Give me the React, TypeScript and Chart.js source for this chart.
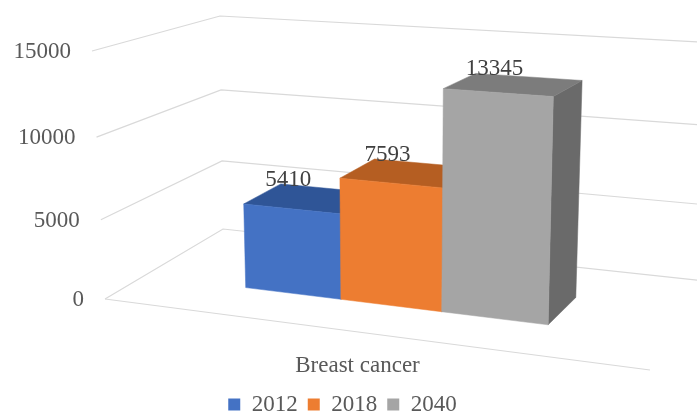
import { useEffect, useRef } from 'react';
import { Chart, registerables } from 'chart.js';

Chart.register(...registerables);

// ---- data ----
const categories = ['Breast cancer'];
const seriesNames = ['2012', '2018', '2040'];
const values2012 = [5410];
const values2018 = [7593];
const values2040 = [13345];
const yTickValues = [0, 5000, 10000, 15000];

// ---- style ----
const FRONT = ['#4472C4', '#ED7D31', '#A5A5A5'];
const TOP = ['#2F5597', '#B55E22', '#7C7C7C'];
const SIDE = ['#294B8A', '#9E5220', '#6A6A6A'];
const FONT = '"Liberation Serif", "Times New Roman", serif';
const Z_FRONT = 0.34;
const Z_BACK = 0.67;
const PERSP_X = 0.146;
const PERSP_V = 0.063;

type Pt = [number, number];
const lerp = (a: number, b: number, t: number) => a + (b - a) * t;
const lerp2 = (p: Pt, q: Pt, t: number): Pt => [lerp(p[0], q[0], t), lerp(p[1], q[1], t)];
const warpX = (X: number) => X + PERSP_X * X * (X - 1);
const warpV = (v: number) => v + PERSP_V * v * (v - 1);

function makeProjection(ca: { left: number; right: number; top: number; bottom: number }) {
  const L = ca.left, B = ca.bottom, T = ca.top;
  const W = ca.right - ca.left;
  const fbl: Pt = [L, B];
  const ftl: Pt = [L - 13, T];
  const fbr: Pt = [L + W, B + 71];
  const ftr: Pt = [L + W + 10, T + 40];
  const bbl: Pt = [L + 118, B - 70];
  const btl: Pt = [L + 115, T - 35];
  const bbr: Pt = [L + W + 73, B - 16];
  const btr: Pt = [L + W + 85, T - 7];
  return (Xr: number, vr: number, Z: number): Pt => {
    const X = warpX(Xr);
    const v = warpV(vr);
    const front = lerp2(lerp2(fbl, fbr, X), lerp2(ftl, ftr, X), v);
    const back = lerp2(lerp2(bbl, bbr, X), lerp2(btl, btr, X), v);
    return lerp2(front, back, Z);
  };
}

function poly(ctx: CanvasRenderingContext2D, pts: Pt[], fill: string) {
  ctx.beginPath();
  ctx.moveTo(pts[0][0], pts[0][1]);
  for (let i = 1; i < pts.length; i++) ctx.lineTo(pts[i][0], pts[i][1]);
  ctx.closePath();
  ctx.fillStyle = fill;
  ctx.fill();
  ctx.strokeStyle = fill;
  ctx.lineWidth = 0.5;
  ctx.stroke();
}

const fake3d = {
  id: 'fake3d',
  beforeDatasetsDraw(chart: any) {
    const ctx: CanvasRenderingContext2D = chart.ctx;
    const ca = chart.chartArea;
    const ys = chart.scales.y;
    const W = ca.right - ca.left;
    const H = ca.bottom - ca.top;
    const P = makeProjection(ca);
    const vOfPx = (py: number) => (ca.bottom - py) / H;
    const xOfPx = (px: number) => (px - ca.left) / W;

    ctx.save();
    // walls / gridlines
    ctx.strokeStyle = '#D9D9D9';
    ctx.lineWidth = 1.2;
    ys.ticks.forEach((t: any) => {
      const v = vOfPx(ys.getPixelForValue(t.value));
      const a = P(0, v, 0), b = P(0, v, 1), c = P(1, v, 1);
      ctx.beginPath();
      ctx.moveTo(a[0], a[1]);
      ctx.lineTo(b[0], b[1]);
      ctx.lineTo(c[0], c[1]);
      ctx.stroke();
    });
    const f0 = P(0, 0, 0), f1 = P(1, 0, 0);
    ctx.beginPath();
    ctx.moveTo(f0[0], f0[1]);
    ctx.lineTo(f1[0], f1[1]);
    ctx.stroke();

    // y tick labels
    ctx.font = `23px ${FONT}`;
    ctx.fillStyle = '#595959';
    ctx.textAlign = 'right';
    ctx.textBaseline = 'middle';
    ys.ticks.forEach((t: any) => {
      const v = vOfPx(ys.getPixelForValue(t.value));
      const a = P(0, v, 0);
      ctx.fillText(String(t.value), a[0] - 21, a[1] + 1);
    });

    // bars
    const labels: { x: number; y: number; text: string }[] = [];
    chart.data.datasets.forEach((ds: any, i: number) => {
      const meta = chart.getDatasetMeta(i);
      meta.data.forEach((bar: any, j: number) => {
        const { x, y, base, width } = bar.getProps(['x', 'y', 'base', 'width'], true);
        const X0 = xOfPx(x - width / 2), X1 = xOfPx(x + width / 2);
        const vb = vOfPx(base), vt = vOfPx(y);
        const side: Pt[] = [P(X1, vb, Z_FRONT), P(X1, vt, Z_FRONT), P(X1, vt, Z_BACK), P(X1, vb, Z_BACK)];
        const top: Pt[] = [P(X0, vt, Z_FRONT), P(X1, vt, Z_FRONT), P(X1, vt, Z_BACK), P(X0, vt, Z_BACK)];
        const front: Pt[] = [P(X0, vb, Z_FRONT), P(X1, vb, Z_FRONT), P(X1, vt, Z_FRONT), P(X0, vt, Z_FRONT)];
        poly(ctx, side, SIDE[i]);
        poly(ctx, top, TOP[i]);
        poly(ctx, front, FRONT[i]);
        const Xc = (X0 + X1) / 2;
        labels.push({
          x: P(Xc, vt, Z_FRONT)[0] - 3,
          y: P(Xc, vt, Z_BACK)[1] - 2,
          text: String(ds.data[j]),
        });
      });
    });

    ctx.font = `23px ${FONT}`;
    ctx.fillStyle = '#404040';
    ctx.textAlign = 'center';
    ctx.textBaseline = 'alphabetic';
    labels.forEach((l) => ctx.fillText(l.text, l.x, l.y));
    ctx.restore();
    return false;
  },
};

export default function App() {
  const ref = useRef<HTMLCanvasElement>(null);
  useEffect(() => {
    Chart.defaults.font.family = FONT;
    Chart.defaults.color = '#595959';
    const seriesValues = [values2012, values2018, values2040];
    const chart = new Chart(ref.current!, {
      type: 'bar',
      data: {
        labels: categories,
        datasets: seriesNames.map((name, i) => ({
          label: name,
          data: seriesValues[i],
          backgroundColor: FRONT[i],
          borderWidth: 0,
          yAxisID: 'y',
        })),
      },
      plugins: [fake3d],
      options: {
        responsive: false,
        maintainAspectRatio: false,
        animation: false,
        layout: { padding: { left: 0, right: 12, top: 51, bottom: 0 } },
        datasets: { bar: { categoryPercentage: 0.571, barPercentage: 1 } },
        plugins: {
          legend: {
            position: 'bottom',
            labels: { boxWidth: 12, boxHeight: 12, padding: 10, font: { size: 23 }, color: '#595959' },
          },
          tooltip: { enabled: false },
        },
        scales: {
          x: {
            display: true,
            grid: { display: false, drawTicks: false },
            border: { display: false },
            ticks: { padding: 53, labelOffset: -20, font: { size: 23 }, color: '#595959' },
            afterFit: (s: any) => { s.height = 84; },
          },
          y: {
            min: 0,
            max: 15000,
            grid: { display: false, drawTicks: false },
            border: { display: false },
            ticks: { display: false },
            afterBuildTicks: (s: any) => { s.ticks = yTickValues.map((v) => ({ value: v })); },
            afterFit: (s: any) => { s.width = 105; },
          },
          y2: {
            type: 'linear',
            position: 'right',
            display: true,
            grid: { display: false, drawTicks: false },
            border: { display: false },
            ticks: { display: false },
            afterFit: (s: any) => { s.width = 35; },
          },
        },
      } as any,
    });
    return () => chart.destroy();
  }, []);
  return (
    <div style={{ position: 'fixed', left: 0, top: 0, width: 697, height: 412, overflow: 'hidden', background: '#fff' }}>
      <canvas ref={ref} width={697} height={426} style={{ display: 'block' }} />
    </div>
  );
}
